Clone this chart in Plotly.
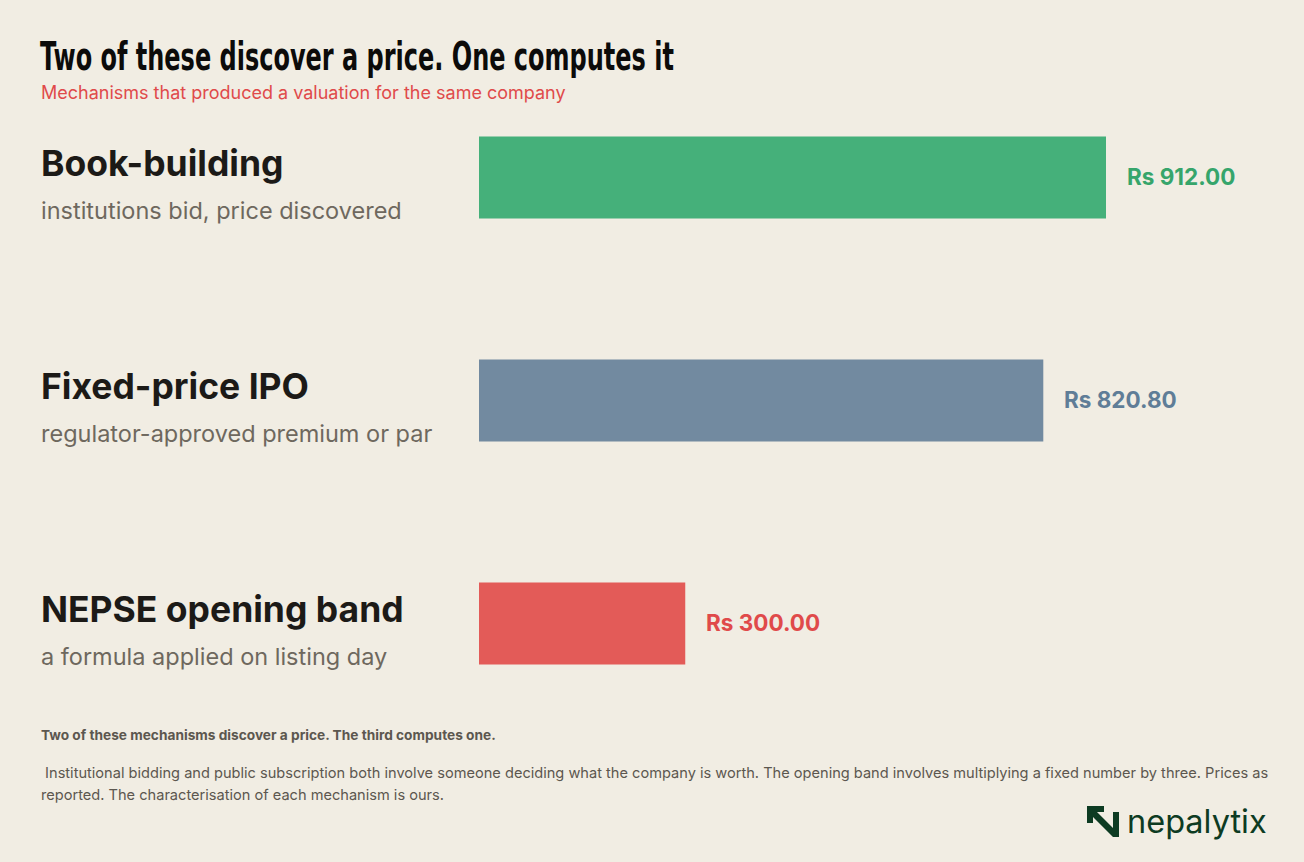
import plotly.graph_objects as go

# data
mechanisms = ['Book-building', 'Fixed-price IPO', 'NEPSE opening band']
descriptions = ['institutions bid, price discovered',
                'regulator-approved premium or par',
                'a formula applied on listing day']
prices = [912.00, 820.80, 300.00]
bar_colors = ['#45b07a', '#728aa0', '#e35b58']
label_colors = ['#36a56b', '#5f7d97', '#e04a4a']

W, H = 1304, 862
L, R, T, B = 479, 40, 66, 127
PW, PH = W - L - R, H - T - B


def px_x(px):
    return (px - L) / PW


def px_y(py):
    return (H - B - py) / PH


BG = '#f1ede3'
SANS = 'Inter, Noto Sans, sans-serif'
FOOT = '#5c574f'
TITLE = 'Two of these discover a price. One computes it'

fig = go.Figure()
fig.add_trace(go.Bar(
    x=prices,
    y=list(range(len(prices))),
    orientation='h',
    width=0.368,
    marker=dict(color=bar_colors, line=dict(width=0)),
    hoverinfo='skip',
))

annotations = []
for i, (name, desc, price, col) in enumerate(zip(mechanisms, descriptions, prices, label_colors)):
    annotations.append(dict(
        x=px_x(39), xref='paper', y=i, yref='y', yshift=14,
        text=name, showarrow=False, xanchor='left', yanchor='middle',
        font=dict(family=SANS, size=35.5, color='#1c1a17', weight=700),
    ))
    annotations.append(dict(
        x=px_x(39), xref='paper', y=i, yref='y', yshift=-33,
        text=desc, showarrow=False, xanchor='left', yanchor='middle',
        font=dict(family=SANS, size=23.5, color='#6e685e'),
    ))
    annotations.append(dict(
        x=price, xref='x', y=i, yref='y', xshift=19, yshift=1,
        text=f'Rs {price:.2f}', showarrow=False, xanchor='left', yanchor='middle',
        font=dict(family=SANS, size=22.5, color=col, weight=700),
    ))

# title block
annotations.append(dict(
    x=px_x(38), xref='paper', y=px_y(57), yref='paper',
    text=TITLE, showarrow=False,
    xanchor='left', yanchor='middle',
    font=dict(family='DejaVu Sans Condensed, DejaVu Sans, sans-serif',
              size=39, color='#0c0b0a', weight=700),
))
annotations.append(dict(
    x=px_x(39), xref='paper', y=px_y(92), yref='paper',
    text='Mechanisms that produced a valuation for the same company', showarrow=False,
    xanchor='left', yanchor='middle',
    font=dict(family=SANS, size=18, color='#e04a4a'),
))

# footnotes
notes = ['Two of these mechanisms discover a price. The third computes one.',
         ' Institutional bidding and public subscription both involve someone deciding what the '
         'company is worth. The opening band involves multiplying a fixed number by three. Prices as',
         'reported. The characterisation of each mechanism is ours.']
for note, py, bold in zip(notes, [735, 773, 795], [True, False, False]):
    annotations.append(dict(
        x=px_x(39), xref='paper', y=px_y(py), yref='paper',
        text=note, showarrow=False, xanchor='left', yanchor='middle',
        font=dict(family=SANS, size=13.7 if bold else 14.6, color=FOOT,
                  weight=700 if bold else 400),
    ))

# logo
annotations.append(dict(
    x=px_x(1125), xref='paper', y=px_y(821), yref='paper',
    text='nepalytix', showarrow=False, xanchor='left', yanchor='middle',
    font=dict(family=SANS, size=32.5, color='#0d3b22'),
))

icon = [(1087, 806), (1104, 806), (1104, 812), (1097, 812), (1113, 828), (1113, 812),
        (1119, 812), (1119, 837), (1113, 837), (1093, 817), (1093, 823), (1087, 823)]
path = 'M ' + ' L '.join(f'{px_x(a):.5f},{px_y(b):.5f}' for a, b in icon) + ' Z'

fig.update_layout(
    width=W, height=H,
    margin=dict(l=L, r=R, t=T, b=B),
    paper_bgcolor=BG, plot_bgcolor=BG,
    showlegend=False,
    xaxis=dict(range=[0, PW / 0.6875], visible=False, fixedrange=True),
    yaxis=dict(range=[2.5, -0.5], visible=False, fixedrange=True),
    annotations=annotations,
    shapes=[dict(type='path', xref='paper', yref='paper', path=path,
                 fillcolor='#0d3b22', line=dict(width=0))],
)

# squeeze the headline horizontally so it reads like a condensed display face
post = """
document.body.style.margin = '0';
var gd = document.getElementById('{plot_id}');
gd.querySelectorAll('text.annotation-text').forEach(function (t) {
  if (t.textContent.indexOf('One computes it') >= 0) {
    var bb = t.getBBox();
    var s = 634 / bb.width;
    t.setAttribute('transform',
      'translate(' + bb.x + ',0) scale(' + s + ',1) translate(' + (-bb.x) + ',0)');
  }
});
"""

fig.write_html('out.html', config={'displayModeBar': False}, post_script=post)
